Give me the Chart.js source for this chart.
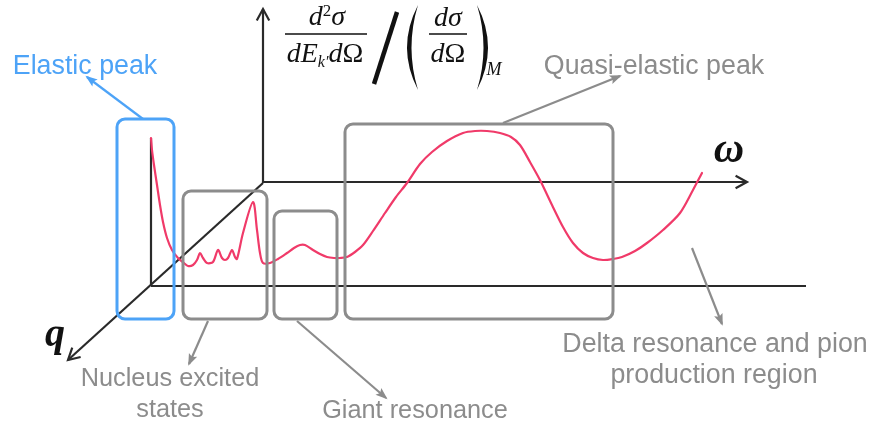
<!DOCTYPE html>
<html>
<head>
<meta charset="utf-8">
<script src="https://cdn.jsdelivr.net/npm/chart.js@4.4.0/dist/chart.umd.min.js"></script>
<style>
  html, body { margin: 0; padding: 0; background: #fff; }
  #wrap { width: 871px; height: 427px; }
</style>
</head>
<body>
<div id="wrap"><canvas id="myChart" width="871" height="427"></canvas></div>
<script>
// sketch units: omega to the right, response measured downward (y scale reversed)
var omega = [151, 152, 154, 157, 160, 163, 167, 172, 178, 184, 188, 193, 197, 200, 203, 207, 213, 218, 222, 225, 228, 232, 235, 237, 243, 253,
             257, 260, 263, 270, 278, 287, 294, 300, 305, 313, 320, 327, 334, 340, 347, 355, 363, 373, 385, 396, 407, 420, 432,
             447, 463, 475, 487, 500, 511, 520, 530, 540, 552, 563, 573, 583, 593, 603, 613, 622, 635, 647, 663, 680, 693, 702];
var response = [138, 150, 165, 185, 205, 222, 238, 250, 258, 263, 266, 265, 260, 253, 258, 263, 262, 250, 258, 260, 258, 250, 257, 259, 233, 202,
                230, 253, 263, 263, 259, 253, 248, 245, 245, 250, 254, 257, 258, 258, 257, 252, 245, 231, 213, 197, 183, 164, 152,
                141, 133, 131, 131, 133, 137, 145, 162, 180, 205, 227, 243, 253, 258, 260, 259, 257, 251, 243, 230, 213, 190, 173];

// region names and their omega ranges (boxes)
var regionNames = ['Elastic peak', 'Nucleus excited states', 'Giant resonance', 'Quasi-elastic peak'];
var regionStart = [117, 183, 274, 345];
var regionEnd = [174, 267, 337, 613];

var blue = 'rgb(77,163,247)';
var gray = 'rgb(140,140,140)';
var ink = '#2a2a2a';
var serif = '"Liberation Serif", "Times New Roman", serif';
var sans = '"Liberation Sans", Arial, Helvetica, sans-serif';

function seg(x0, y0, x1, y1, color, width, arrow) {
    return {
        data: [{x: x0, y: y0}, {x: x1, y: y1}],
        borderColor: color,
        borderWidth: width,
        pointRadius: 0,
        tension: 0,
        arrow: arrow
    };
}

var datasets = [];
datasets.push({
    data: omega.map(function(w, i) { return {x: w, y: response[i]}; }),
    borderColor: 'rgb(240,58,105)',
    borderWidth: 2.2,
    pointRadius: 0,
    tension: 0.3,
    borderCapStyle: 'round'
});
// leader lines from the boxes to their labels
datasets.push(seg(143, 119, 87, 77, blue, 2.2, 'fill'));
datasets.push(seg(208, 321, 189, 364, gray, 2.2, 'fill'));
datasets.push(seg(297, 321, 386, 398, gray, 2.2, 'fill'));
datasets.push(seg(503, 123, 620, 76, gray, 2.2, 'fill'));
datasets.push(seg(692, 248, 722, 324, gray, 2.2, 'fill'));
// the 3D axes
datasets.push(seg(263, 183, 263, 9, ink, 2.2, 'open'));
datasets.push(seg(263, 182, 747, 182, ink, 2.2, 'open'));
datasets.push(seg(263, 183, 68, 360, ink, 2.2, 'open'));
datasets.push(seg(151, 138, 151, 286, ink, 2.2, null));
datasets.push(seg(151, 286, 806, 286, ink, 2.2, null));

function drawRun(ctx, pieces, cx, base) {
    var total = 0;
    pieces.forEach(function(p) { ctx.font = p[1]; total += ctx.measureText(p[0]).width + (p[3] || 0); });
    var x = cx - total / 2;
    pieces.forEach(function(p) {
        ctx.font = p[1];
        ctx.fillText(p[0], x, base + (p[2] || 0));
        x += ctx.measureText(p[0]).width + (p[3] || 0);
    });
}

function paren(ctx, xEnd, xBulge, top, bottom, thick) {
    var mid = (top + bottom) / 2;
    var dir = xBulge < xEnd ? 1 : -1;
    ctx.beginPath();
    ctx.moveTo(xEnd, top);
    ctx.quadraticCurveTo(xBulge - dir * 7, mid, xEnd, bottom);
    ctx.quadraticCurveTo(xBulge - dir * 7 + dir * thick * 2, mid, xEnd, top);
    ctx.fill();
}

var sketchPlugin = {
    id: 'sketch',
    afterDatasetsDraw: function(chart) {
        var ctx = chart.ctx;
        var xs = chart.scales.x, ys = chart.scales.y;
        ctx.save();
        // arrow heads
        chart.data.datasets.forEach(function(ds, i) {
            if (!ds.arrow) return;
            var pts = chart.getDatasetMeta(i).data;
            var a = pts[pts.length - 2], b = pts[pts.length - 1];
            var ang = Math.atan2(b.y - a.y, b.x - a.x);
            ctx.strokeStyle = ds.borderColor;
            ctx.fillStyle = ds.borderColor;
            ctx.lineWidth = ds.borderWidth;
            if (ds.arrow === 'open') {
                var L = 13, s = 0.5;
                ctx.beginPath();
                ctx.moveTo(b.x - L * Math.cos(ang - s), b.y - L * Math.sin(ang - s));
                ctx.lineTo(b.x, b.y);
                ctx.lineTo(b.x - L * Math.cos(ang + s), b.y - L * Math.sin(ang + s));
                ctx.stroke();
            } else {
                var L2 = 11, s2 = 0.42;
                ctx.beginPath();
                ctx.moveTo(b.x + 2 * Math.cos(ang), b.y + 2 * Math.sin(ang));
                ctx.lineTo(b.x - L2 * Math.cos(ang - s2), b.y - L2 * Math.sin(ang - s2));
                ctx.lineTo(b.x - L2 * 0.7 * Math.cos(ang), b.y - L2 * 0.7 * Math.sin(ang));
                ctx.lineTo(b.x - L2 * Math.cos(ang + s2), b.y - L2 * Math.sin(ang + s2));
                ctx.closePath();
                ctx.fill();
            }
        });
        // region boxes
        var tops = [119, 191, 211, 124];
        ctx.lineWidth = 3;
        regionNames.forEach(function(name, i) {
            var x0 = xs.getPixelForValue(regionStart[i]);
            var x1 = xs.getPixelForValue(regionEnd[i]);
            var y0 = ys.getPixelForValue(tops[i]);
            var y1 = ys.getPixelForValue(319);
            ctx.strokeStyle = i === 0 ? blue : gray;
            ctx.beginPath();
            ctx.roundRect(x0, y0, x1 - x0, y1 - y0, 8);
            ctx.stroke();
        });
        ctx.restore();
    },
    afterDraw: function(chart) {
        var ctx = chart.ctx;
        ctx.save();
        ctx.textBaseline = 'alphabetic';
        // labels
        ctx.font = '26.8px ' + sans;
        ctx.textAlign = 'center';
        ctx.fillStyle = blue;
        ctx.fillText('Elastic peak', 85, 74);
        ctx.fillStyle = gray;
        ctx.fillText('Quasi-elastic peak', 654, 74);
        ctx.fillText('Delta resonance and pion', 715, 352);
        ctx.fillText('production region', 714, 383);
        ctx.font = '25.3px ' + sans;
        ctx.fillText('Nucleus excited', 170, 386);
        ctx.fillText('states', 170, 417);
        ctx.fillText('Giant resonance', 415, 418);

        // axis symbols
        ctx.fillStyle = '#111';
        ctx.font = 'bold italic 42px ' + serif;
        ctx.fillText('\u03c9', 729, 162);
        ctx.font = 'bold italic 40px ' + serif;
        ctx.fillText('q', 55, 346);

        // formula
        ctx.textAlign = 'left';
        var it = 'italic 28px ' + serif, up = '28px ' + serif;
        drawRun(ctx, [['d', it], ['2', '17px ' + serif, -9], ['\u03c3', it]], 327, 25);
        drawRun(ctx, [['d', it], ['E', it], ['k\u2032', 'italic 16px ' + serif, 5], ['d', it], ['\u03a9', up]], 325, 62);
        drawRun(ctx, [['d', it], ['\u03c3', it]], 448, 26);
        drawRun(ctx, [['d', it], ['\u03a9', up]], 448, 62);
        ctx.strokeStyle = '#111';
        ctx.lineWidth = 1.6;
        ctx.beginPath();
        ctx.moveTo(285, 34); ctx.lineTo(367, 34);
        ctx.moveTo(429, 34); ctx.lineTo(467, 34);
        ctx.stroke();
        ctx.lineWidth = 4.5;
        ctx.beginPath();
        ctx.moveTo(374, 84); ctx.lineTo(397, 12);
        ctx.stroke();
        paren(ctx, 418, 403, 5, 90, 4.5);
        paren(ctx, 477, 492, 5, 90, 4.5);
        ctx.font = 'italic 18px ' + serif;
        ctx.textAlign = 'center';
        ctx.fillText('M', 494, 75);
        ctx.restore();
    }
};

var ctx = document.getElementById('myChart').getContext('2d');
var myChart = new Chart(ctx, {
    type: 'line',
    data: { datasets: datasets },
    options: {
        responsive: false,
        animation: false,
        devicePixelRatio: 1,
        layout: { padding: 0 },
        plugins: { legend: { display: false }, tooltip: { enabled: false } },
        scales: {
            x: { type: 'linear', min: 0, max: 871, display: false },
            y: { type: 'linear', min: 0, max: 427, reverse: true, display: false }
        }
    },
    plugins: [sketchPlugin]
});
</script>
</body>
</html>
